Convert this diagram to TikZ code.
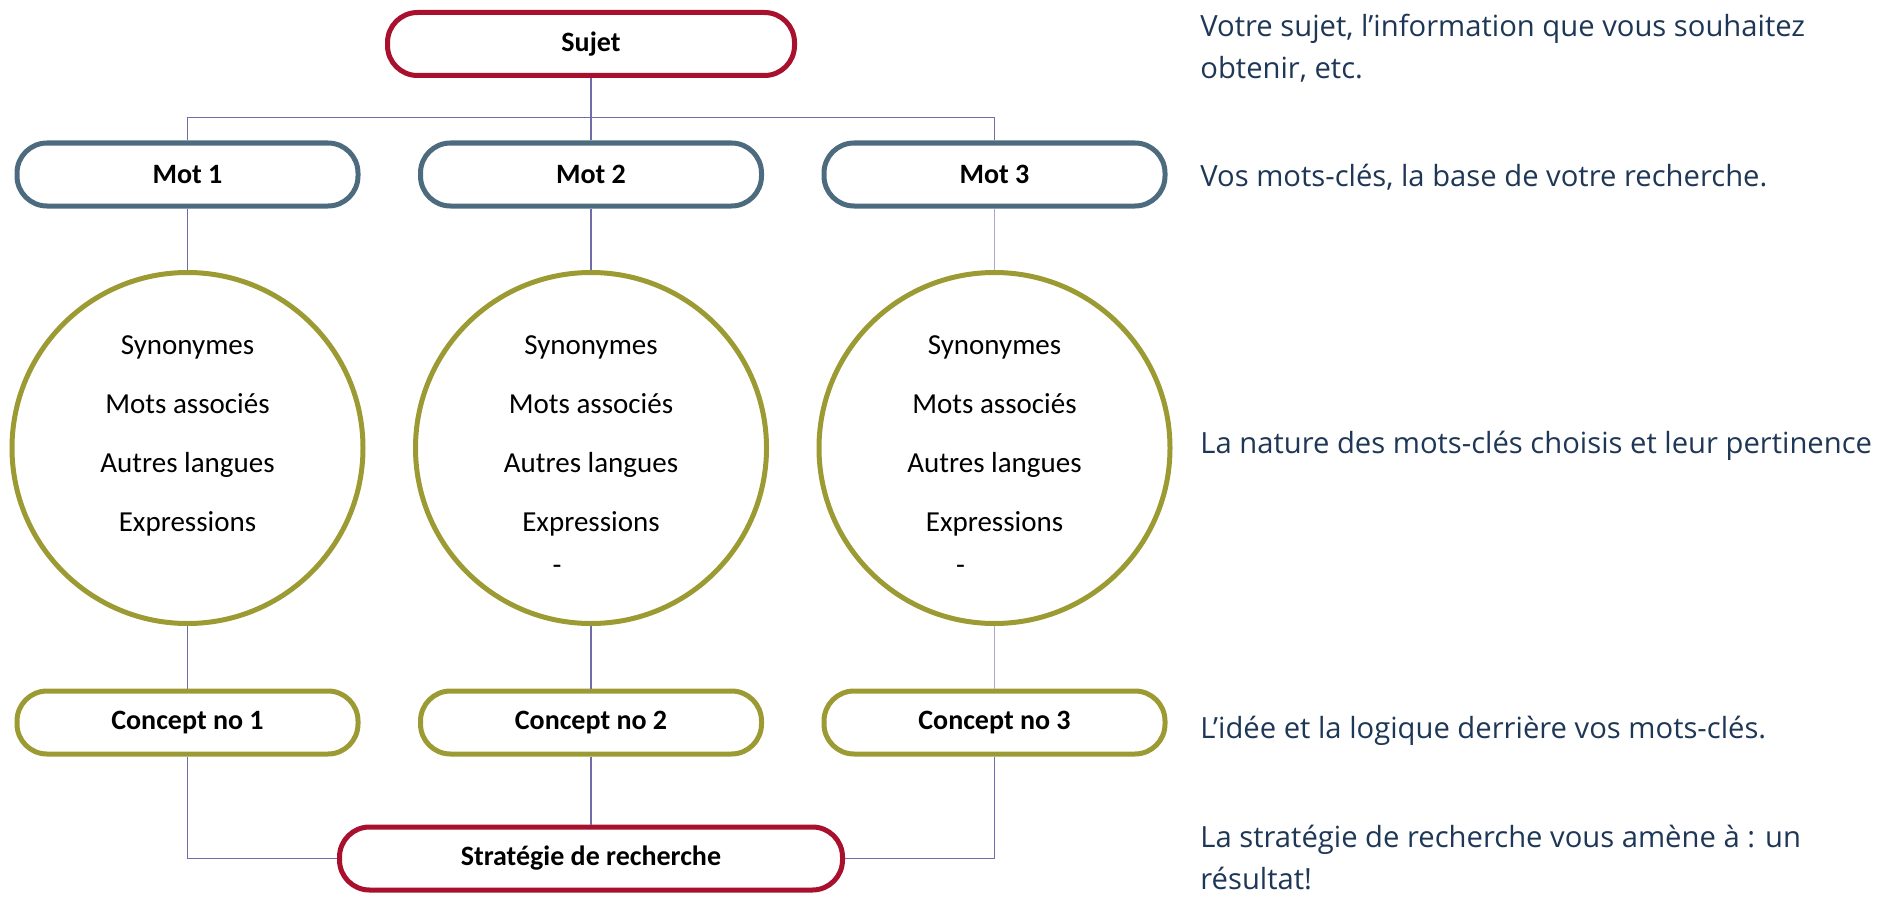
\documentclass[tikz,border=0pt]{standalone}
\usepackage{fontspec}
\usepackage{tikz}
\usetikzlibrary{positioning}

\newfontfamily\boxfont{Carlito}
\newfontfamily\notefont{Open Sans}

\definecolor{cramoisi}{HTML}{A8102E}
\definecolor{ardoise}{HTML}{4D6B7F}
\definecolor{olivier}{HTML}{9C9A33}
\definecolor{lavande}{HTML}{6F6CA8}
\definecolor{lavclair}{HTML}{ABA6D2}
\definecolor{marine}{HTML}{1E3756}

\begin{document}
\begin{tikzpicture}[x=0.5pt, y=-0.5pt, node distance=201.75pt]
    \tikzstyle{cadre}=[draw, line width=2.5pt, rounded corners=15pt, minimum height=31.5pt, fill=white, font=\boxfont\bfseries\fontsize{14}{16}\selectfont]
    \tikzstyle{sujetbox}=[cadre, draw=cramoisi, minimum width=203.5pt]
    \tikzstyle{mot}=[cadre, draw=ardoise, minimum width=170.5pt]
    \tikzstyle{concept}=[cadre, draw=olivier, minimum width=170.5pt]
    \tikzstyle{bulle}=[circle, draw=olivier, line width=2.5pt, minimum size=175.5pt, inner sep=0pt]
    \tikzstyle{liste}=[align=center, font=\boxfont\fontsize{14.5}{29.5}\selectfont]
    \tikzstyle{lien}=[draw=lavande, line width=0.75pt]
    \tikzstyle{note}=[anchor=west, align=left, inner sep=0pt, text=marine, font=\notefont\fontsize{14.6}{21}\selectfont]

    \useasboundingbox (0,0) rectangle (1900,899);

    \node[sujetbox] (sujet) at (591,44) {Sujet};

    \node[mot] (mot2) at (591,174.5) {Mot 2};
    \node[mot, left of=mot2] (mot1) {Mot 1};
    \node[mot, right of=mot2] (mot3) {Mot 3};

    \node[bulle] (bulle2) at (591,448) {};
    \node[bulle, left of=bulle2] (bulle1) {};
    \node[bulle, right of=bulle2] (bulle3) {};

    \node[liste] (liste1) at ([yshift=6pt]bulle1.center) {Synonymes\\Mots associés\\Autres langues\\Expressions};
    \node[liste] (liste2) at ([yshift=6pt]bulle2.center) {Synonymes\\Mots associés\\Autres langues\\Expressions};
    \node[liste] (liste3) at ([yshift=6pt]bulle3.center) {Synonymes\\Mots associés\\Autres langues\\Expressions};
    \node[liste] (tiret2) at ([xshift=-17pt, yshift=-61pt]bulle2.center) {-};
    \node[liste] (tiret3) at ([xshift=-17pt, yshift=-61pt]bulle3.center) {-};

    \node[concept] (concept2) at (591,722.5) {Concept no 2};
    \node[concept, left of=concept2] (concept1) {Concept no 1};
    \node[concept, right of=concept2] (concept3) {Concept no 3};

    \node[sujetbox, minimum width=251.5pt] (strategie) at (591,858.5) {Stratégie de recherche};

    % notes
    \node[note] (note1) at (1200,48) {Votre sujet, l’information que vous souhaitez\\obtenir, etc.};
    \node[note] (note2) at (1200,177) {Vos mots-clés, la base de votre recherche.};
    \node[note] (note3) at (1200,446) {La nature des mots-clés choisis et leur pertinence};
    \node[note] (note4) at (1200,731) {L’idée et la logique derrière vos mots-clés.};
    \node[note] (note5) at (1200,858) {La stratégie de recherche vous amène à : un\\résultat!};

    \coordinate (bus) at (591,117.5);
    \draw[lien] (sujet) -- (mot2);
    \draw[lien] (mot1.north) |- (bus) -| (mot3.north);

    \draw[lien] (mot1) -- (bulle1);
    \draw[lien] (mot2) -- (bulle2);
    \draw[lien, draw=lavclair] (mot3) -- (bulle3);
    \draw[lien] (bulle1) -- (concept1);
    \draw[lien] (bulle2) -- (concept2);
    \draw[lien, draw=lavclair] (bulle3) -- (concept3);

    \draw[lien] (concept1.south) |- (strategie.west);
    \draw[lien] (concept2) -- (strategie);
    \draw[lien] (concept3.south) |- (strategie.east);
\end{tikzpicture}
\end{document}
